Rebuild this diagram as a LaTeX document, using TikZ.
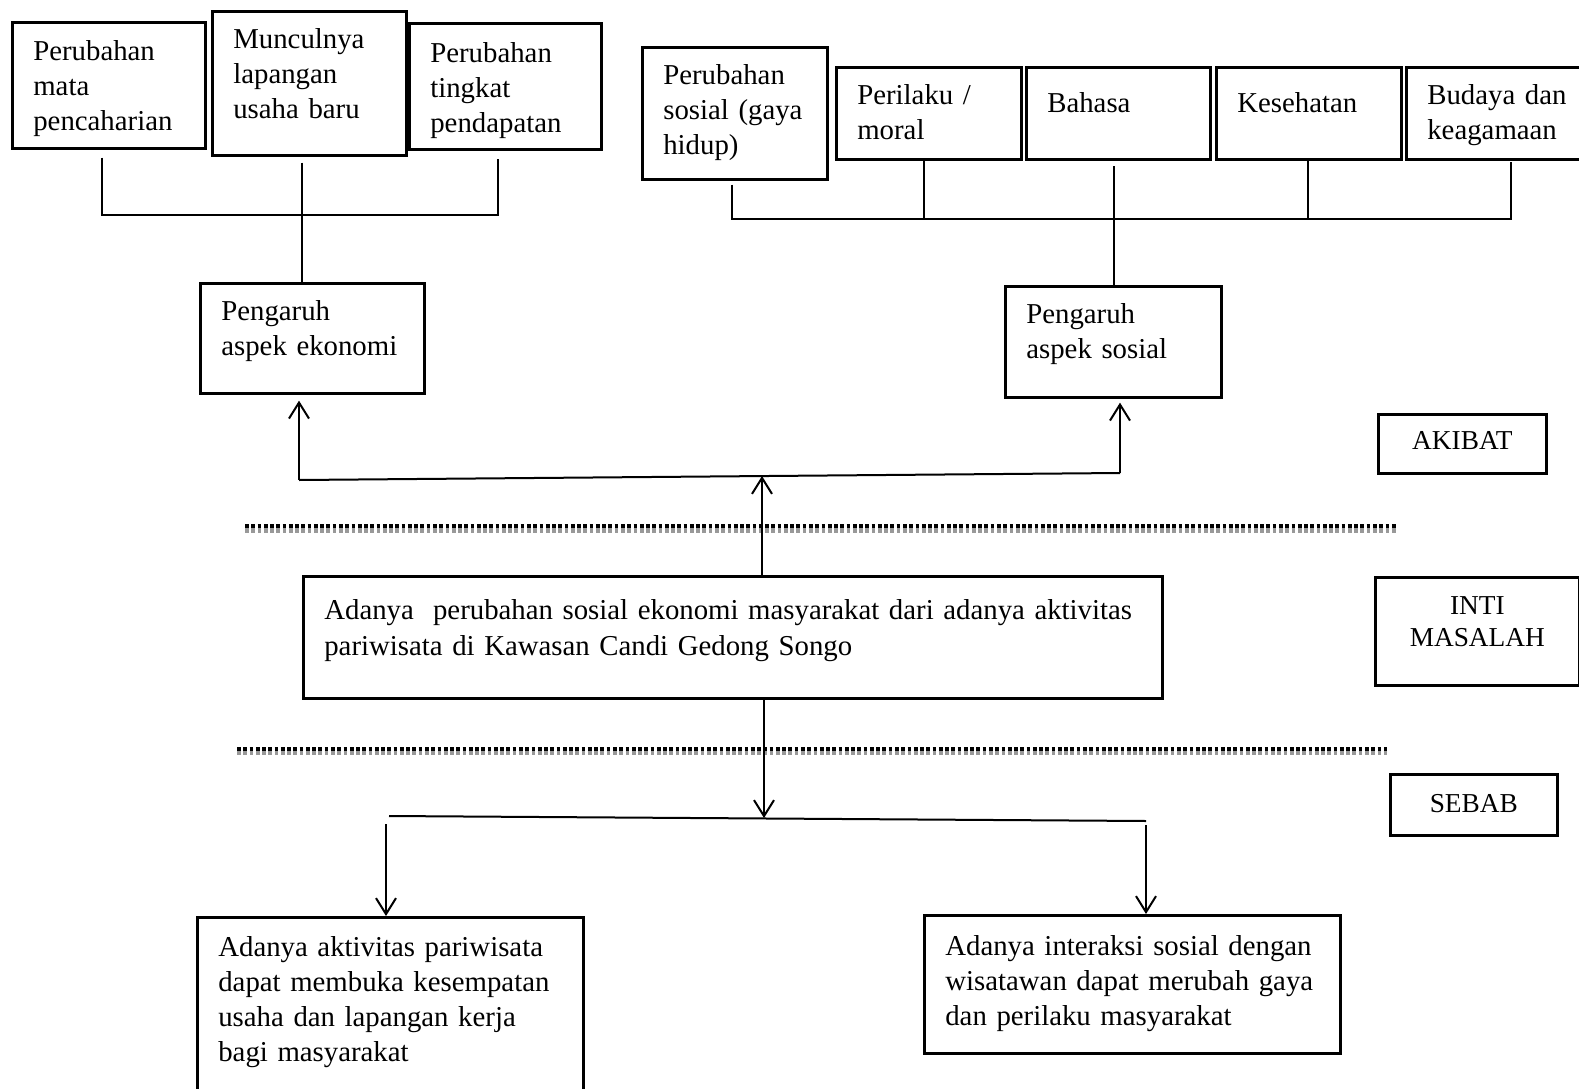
\documentclass[tikz,border=0pt]{standalone}
\usepackage{fontspec}
\setmainfont{Liberation Serif}
\usetikzlibrary{arrows.meta}

\tikzset{every picture/.style={line width=1.5pt}}
\tikzset{
  kotak/.style={draw, line width=2pt, anchor=north west, align=left, inner xsep=15.75pt, inner ysep=0pt, font=\fontsize{21.6}{26.25}\selectfont},
  tanda/.style={draw, line width=2pt, anchor=north west, align=center, inner xsep=0pt, inner ysep=0pt, font=\fontsize{20.5}{24.4}\selectfont},
  panah/.style={-{Straight Barb[length=12pt,width=15pt]}},
  titik hitam/.style={line width=3pt, dash pattern={on 2.8pt off 1.9pt}},
  titik abu/.style={line width=3.5pt, color=black!40, dash pattern={on 2.8pt off 1.9pt}},
}

\begin{document}
\begin{tikzpicture}[x=0.75pt,y=0.75pt,yscale=-1,xscale=1]
\useasboundingbox (0,0) rectangle (1579,1089);

%Shape: Dotted Lines
\draw [titik abu] (245,530.5) -- (1396,530.5) ;
\draw [titik hitam] (245,526) -- (1396,526) ;
\draw [titik abu] (237,753) -- (1387,753) ;
\draw [titik hitam] (237,748.7) -- (1387,748.7) ;

% Text Node: aspek ekonomi
\node [kotak, text width=113.25pt, text height=28.7pt, text depth=65.8pt] (mata) at (11,21) {Perubahan\\mata\\pencaharian};
\node [kotak, text width=114pt, text height=27.5pt, text depth=80.5pt] (usaha) at (211,10) {Munculnya\\lapangan\\usaha baru};
\node [kotak, text width=112.5pt, text height=29pt, text depth=65.5pt] (pendapatan) at (408,22) {Perubahan\\tingkat\\pendapatan};
\node [kotak, text width=136.5pt, text height=27.5pt, text depth=55pt] (ekonomi) at (199,282) {Pengaruh\\aspek ekonomi};

% Text Node: aspek sosial
\node [kotak, text width=107.25pt, text height=28pt, text depth=71pt] (gaya) at (641,46) {Perubahan\\sosial (gaya\\hidup)};
\node [kotak, text width=107.25pt, text height=27.5pt, text depth=41.5pt] (moral) at (835,66) {Perilaku /\\moral};
\node [kotak, text width=106.5pt, text height=33.5pt, text depth=35.5pt] (bahasa) at (1025,66) {Bahasa};
\node [kotak, text width=107.25pt, text height=33.5pt, text depth=35.5pt] (sehat) at (1215,66) {Kesehatan};
\node [kotak, text width=109pt, text height=27.5pt, text depth=41.5pt] (budaya) at (1405,66) {Budaya dan\\keagamaan};
\node [kotak, text width=130.5pt, text height=28pt, text depth=55.25pt] (sosial) at (1004,285) {Pengaruh\\aspek sosial};

% Text Node: inti dan sebab
\node [kotak, text width=612.75pt, text height=32pt, text depth=59.5pt, font=\fontsize{21.6}{27}\selectfont] (masalah) at (302,575) {Adanya~ perubahan sosial ekonomi masyarakat dari adanya aktivitas\\pariwisata di Kawasan Candi Gedong Songo};
\node [kotak, text width=258pt, text height=29pt, text depth=130pt] (sebab1) at (196,916) {Adanya aktivitas pariwisata\\dapat membuka kesempatan\\usaha dan lapangan kerja\\bagi masyarakat};
\node [kotak, text width=280.5pt, text height=30pt, text depth=73.5pt] (sebab2) at (923,914) {Adanya interaksi sosial dengan\\wisatawan dapat merubah gaya\\dan perilaku masyarakat};

% Text Node: keterangan
\node [tanda, text width=126pt, text height=26.25pt, text depth=18pt] (akibat) at (1377,413) {AKIBAT};
\node [tanda, text width=153pt, text height=27.75pt, text depth=53.25pt] (inti) at (1374,576) {INTI\\MASALAH};
\node [tanda, text width=125.25pt, text height=28.95pt, text depth=16.8pt] (sebab) at (1389,773) {SEBAB};

% Coordinates
\coordinate (ekoA) at (102,215);
\coordinate (ekoM) at (302,215);
\coordinate (ekoB) at (498,215);
\coordinate (sosA) at (732,219);
\coordinate (sosB) at (924,219);
\coordinate (sosC) at (1114,219);
\coordinate (sosD) at (1308,219);
\coordinate (sosE) at (1511,219);
\coordinate (akL) at (299,480);
\coordinate (akM) at (762,476);
\coordinate (akR) at (1120,473);
\coordinate (sbL) at (389,816);
\coordinate (sbM) at (764,818);
\coordinate (sbR) at (1146,821);
\coordinate (sbL1) at (386,824);
\coordinate (sbR1) at (1146,825);

%Straight Lines
\draw [shorten <=6pt, shorten >=6pt] (mata.south -| ekoA) -- (ekoA) -- (ekoB) -- (pendapatan.south -| ekoB) ;
\draw [shorten <=4.5pt] (usaha.south -| ekoM) -- (ekonomi.north -| ekoM) ;
\draw [shorten <=3pt, shorten >=1pt] (gaya.south -| sosA) -- (sosA) -- (sosE) -- (budaya.south -| sosE) ;
\draw (moral.south -| sosB) -- (sosB) ;
\draw (sehat.south -| sosD) -- (sosD) ;
\draw [shorten <=4pt] (bahasa.south -| sosC) -- (sosial.north -| sosC) ;

%Straight Lines: akibat
\draw (akL) -- (akR) ;
\draw [panah, shorten >=4.5pt] (akL) -- (ekonomi.south -| akL) ;
\draw [panah, shorten >=3pt] (akR) -- (sosial.south -| akR) ;
\draw [panah] (masalah.north -| akM) -- (akM) ;

%Straight Lines: sebab
\draw [panah] (masalah.south -| sbM) -- (sbM) ;
\draw (sbL) -- (sbR) ;
\draw [panah] (sbL1) -- (sebab1.north -| sbL1) ;
\draw [panah] (sbR1) -- (sebab2.north -| sbR1) ;

\end{tikzpicture}
\end{document}
